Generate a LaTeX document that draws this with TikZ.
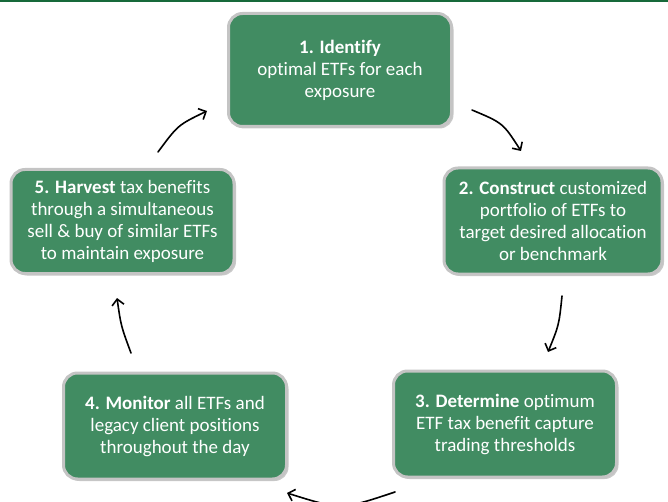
\documentclass[tikz,border=0pt]{standalone}
\usepackage{fontspec}
\setmainfont[Ligatures=NoCommon]{Carlito}
\usetikzlibrary{arrows.meta,shadows}
\definecolor{etfgreen}{HTML}{418C62}
\definecolor{etfborder}{HTML}{C4C4C4}
\definecolor{topbar}{HTML}{17693A}
\begin{document}
\begin{tikzpicture}[x=1pt, y=-1pt, >={Straight Barb[length=6pt,width=12pt]},
    stepbox/.style={draw=etfborder, line width=3pt, fill=etfgreen, rounded corners=14pt,
        text=white, align=center, inner sep=0pt, minimum width=223pt, minimum height=106pt,
        font=\fontsize{19}{22}\selectfont,
        drop shadow={shadow xshift=2pt, shadow yshift=-2pt, opacity=0.35, fill=black!60}},
    flow/.style={->, line width=1.6pt, line cap=round}]
    \useasboundingbox (0,0) rectangle (668,502);
    \fill[topbar] (0,0) rectangle (668,2.5);

    % Steps of the cycle
    \node[stepbox, minimum height=113pt] (identify) at (340,70)
        {\textbf{1. Identify}\\optimal ETFs for each\\exposure};
    \node[stepbox, minimum width=218pt] (construct) at (553,221)
        {\textbf{2. Construct} customized\\portfolio of ETFs to\\target desired allocation\\or benchmark};
    \node[stepbox] (determine) at (505,424)
        {\textbf{3. Determine} optimum\\ETF tax benefit capture\\trading thresholds};
    \node[stepbox] (monitor) at (175,426)
        {\textbf{4. Monitor} all ETFs and\\legacy client positions\\throughout the day};
    \node[stepbox, minimum height=104pt] (harvest) at (122.5,221.5)
        {\textbf{5. Harvest} tax benefits\\through a simultaneous\\sell \& buy of similar ETFs\\to maintain exposure};

    % Arrow ends
    \coordinate (a1s) at (472,110);  \coordinate (a1e) at (521,151);
    \coordinate (a2s) at (562,296);  \coordinate (a2e) at (548,352);
    \coordinate (a3s) at (395,492);  \coordinate (a3e) at (287,493);
    \coordinate (a4s) at (131,353);  \coordinate (a4e) at (117,298);
    \coordinate (a5s) at (158,152);  \coordinate (a5e) at (207,111);

    % Arrows between the steps
    \draw[flow] (a1s) .. controls (503,123) .. (a1e);
    \draw[flow] (a2s) .. controls (559,325) .. (a2e);
    \draw[flow] (a3s) .. controls (341,510) .. (a3e);
    \draw[flow] (a4s) .. controls (121,326) .. (a4e);
    \draw[flow] (a5s) .. controls (178,125) .. (a5e);
\end{tikzpicture}
\end{document}
